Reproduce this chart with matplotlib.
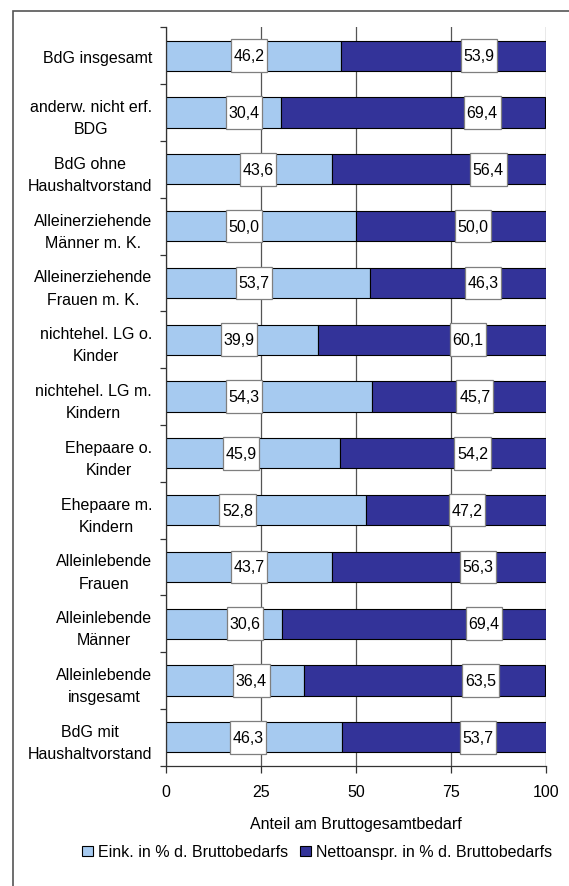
import numpy as np
import matplotlib.pyplot as plt
from matplotlib.patches import Rectangle

plt.rcParams['font.family'] = ['Liberation Sans', 'DejaVu Sans']
plt.rcParams['font.size'] = 11.5

# household types, top to bottom
categories = [
    "BdG insgesamt",
    "anderw. nicht erf.\nBDG",
    "BdG ohne\nHaushaltvorstand",
    "Alleinerziehende\nMänner m. K.",
    "Alleinerziehende\nFrauen m. K.",
    "nichtehel. LG o.\nKinder",
    "nichtehel. LG m.\nKindern",
    "Ehepaare o.\nKinder",
    "Ehepaare m.\nKindern",
    "Alleinlebende\nFrauen",
    "Alleinlebende\nMänner",
    "Alleinlebende\ninsgesamt",
    "BdG mit\nHaushaltvorstand",
]
eink = [46.2, 30.4, 43.6, 50.0, 53.7, 39.9, 54.3, 45.9, 52.8, 43.7, 30.6, 36.4, 46.3]
netto = [53.9, 69.4, 56.4, 50.0, 46.3, 60.1, 45.7, 54.2, 47.2, 56.3, 69.4, 63.5, 53.7]
xticks = [0, 25, 50, 75, 100]
series_names = ["Eink. in % d. Bruttobedarfs", "Nettoanspr. in % d. Bruttobedarfs"]

# where the value boxes sit along the x axis (they were placed by hand)
label_x_eink = [21.9, 20.5, 24.2, 20.5, 23.2, 19.2, 20.6, 19.8, 18.8, 21.9, 20.8, 22.5, 21.6]
label_x_netto = [82.4, 83.3, 84.9, 80.9, 83.5, 79.5, 81.3, 80.7, 79.3, 82.2, 83.7, 82.8, 82.2]

light = '#A6CAF0'
dark = '#333399'
W, H = 569, 887
fs = 11.5

fig = plt.figure(figsize=(W / 100, H / 100), dpi=100)
ax = fig.add_axes([166 / W, (H - 766.7) / H, (545.7 - 166) / W, (766.7 - 28.3) / H])

y = np.arange(len(categories))
bar_h = 0.53
ax.barh(y, eink, height=bar_h, color=light, edgecolor='black', linewidth=0.8,
        label=series_names[0], zorder=2)
ax.barh(y, netto, left=eink, height=bar_h, color=dark, edgecolor='black', linewidth=0.8,
        label=series_names[1], zorder=2)

# value boxes
box_w, box_h = 9.6, 0.574
for i in range(len(categories)):
    for xv, val in ((label_x_eink[i], eink[i]), (label_x_netto[i], netto[i])):
        ax.add_patch(Rectangle((xv - box_w / 2, y[i] - box_h / 2), box_w, box_h,
                               facecolor='white', edgecolor='#7f7f7f', linewidth=0.9, zorder=3))
        ax.text(xv, y[i], f"{val:.1f}".replace('.', ','), ha='center', va='center',
                fontsize=fs, zorder=4)

ax.set_xlim(0, 100)
ax.set_ylim(len(categories) - 0.5, -0.5)
ax.set_xticks(xticks)
ax.set_xticklabels([str(t) for t in xticks])
ax.set_yticks(y)
ax.set_yticklabels(categories, ha='right', multialignment='center', linespacing=1.6)
ax.set_yticks(np.arange(-0.5, len(categories), 1.0), minor=True)
ax.tick_params(axis='y', which='major', length=0, pad=10, labelsize=fs)
ax.tick_params(axis='y', which='minor', length=4, direction='out', width=0.9, color='#333333')
ax.tick_params(axis='x', length=5, direction='out', width=0.9, color='#333333', pad=8, labelsize=fs)

ax.xaxis.grid(True, color='#555555', linewidth=0.9, zorder=0)
ax.set_axisbelow(True)
for s in ('top', 'right'):
    ax.spines[s].set_visible(False)
for s in ('left', 'bottom'):
    ax.spines[s].set_color('#333333')
    ax.spines[s].set_linewidth(0.9)

fig.text(355.9 / W, (H - 825) / H, "Anteil am Bruttogesamtbedarf", ha='center', va='center', fontsize=fs)

fig.legend(loc='center', bbox_to_anchor=(316.7 / W, (H - 853) / H), ncol=2, frameon=False,
           fontsize=fs, handlelength=0.7, handleheight=0.65, handletextpad=0.3,
           columnspacing=0.75, borderpad=0, borderaxespad=0)

# outer chart frame (right and bottom edges fall outside the image)
fig.add_artist(Rectangle((13.3 / W, -0.1), 1.2, (H - 12.3) / H + 0.1, transform=fig.transFigure,
                         fill=False, edgecolor='#555555', linewidth=1.2))

fig.savefig('out.png', dpi=100)
